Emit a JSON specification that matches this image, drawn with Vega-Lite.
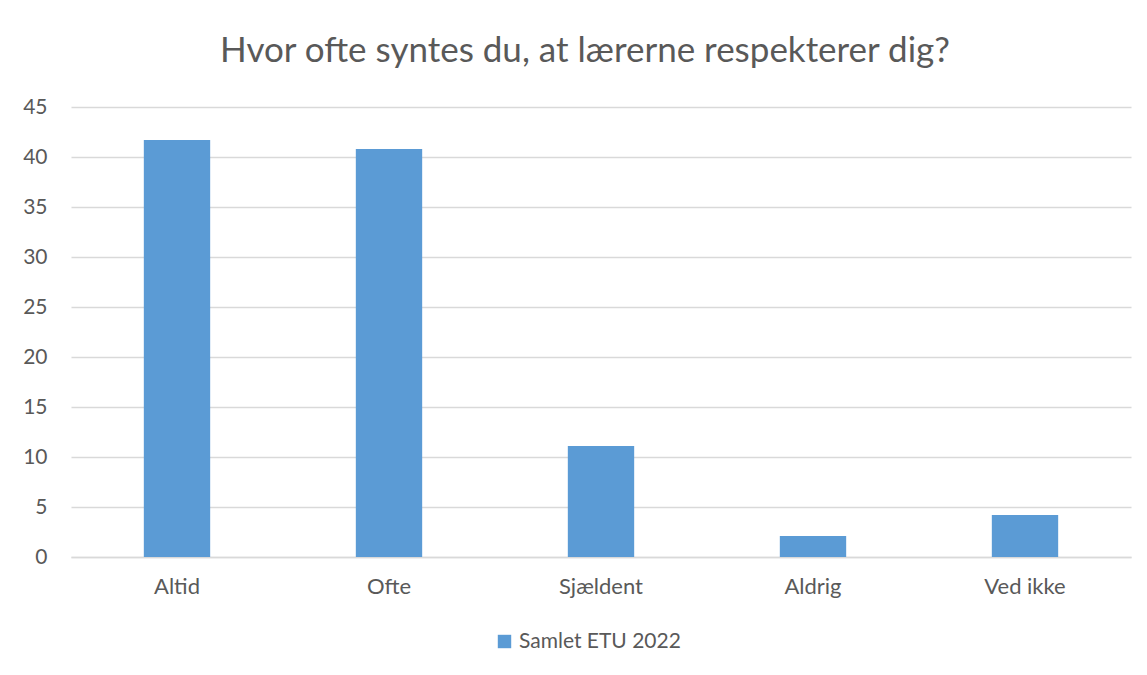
{
  "$schema": "https://vega.github.io/schema/vega-lite/v6.json",
  "width": 1060,
  "height": 450,
  "autosize": {"type": "none"},
  "padding": {"left": 71, "top": 107, "right": 16, "bottom": 118},
  "background": "white",
  "title": {
    "text": "Hvor ofte syntes du, at lærerne respekterer dig?",
    "font": "Lato",
    "fontSize": 35,
    "fontWeight": "normal",
    "color": "#595959",
    "anchor": "middle",
    "dx": -16,
    "offset": 27
  },
  "data": {
    "values": [
      {"svar": "Altid", "pct": 41.7, "serie": "Samlet ETU 2022"},
      {"svar": "Ofte", "pct": 40.8, "serie": "Samlet ETU 2022"},
      {"svar": "Sjældent", "pct": 11.1, "serie": "Samlet ETU 2022"},
      {"svar": "Aldrig", "pct": 2.1, "serie": "Samlet ETU 2022"},
      {"svar": "Ved ikke", "pct": 4.2, "serie": "Samlet ETU 2022"}
    ]
  },
  "mark": {"type": "bar"},
  "encoding": {
    "x": {
      "field": "svar",
      "type": "nominal",
      "sort": null,
      "scale": {"paddingInner": 0.687, "paddingOuter": 0.3435},
      "axis": {
        "title": null,
        "labelAngle": 0,
        "labelFont": "Lato",
        "labelFontSize": 22,
        "labelColor": "#595959",
        "domainColor": "#d9d9d9",
        "domainWidth": 1.5,
        "ticks": false,
        "labelPadding": 19
      }
    },
    "y": {
      "field": "pct",
      "type": "quantitative",
      "scale": {"domain": [0, 45]},
      "axis": {
        "title": null,
        "values": [0, 5, 10, 15, 20, 25, 30, 35, 40, 45],
        "grid": true,
        "gridColor": "#d9d9d9",
        "gridWidth": 1.5,
        "domain": false,
        "ticks": false,
        "labelFont": "Lato",
        "labelFontSize": 21,
        "labelColor": "#595959",
        "labelPadding": 24
      }
    },
    "color": {
      "field": "serie",
      "type": "nominal",
      "scale": {"range": ["#5b9bd5"]},
      "legend": {
        "orient": "none",
        "legendX": 423,
        "legendY": 524,
        "title": null,
        "direction": "horizontal",
        "symbolType": "square",
        "symbolSize": 180,
        "symbolStrokeWidth": 0,
        "labelFont": "Lato",
        "labelFontSize": 21,
        "labelColor": "#595959",
        "labelOffset": 4,
        "labelLimit": 0
      }
    }
  },
  "config": {"view": {"stroke": null}}
}
